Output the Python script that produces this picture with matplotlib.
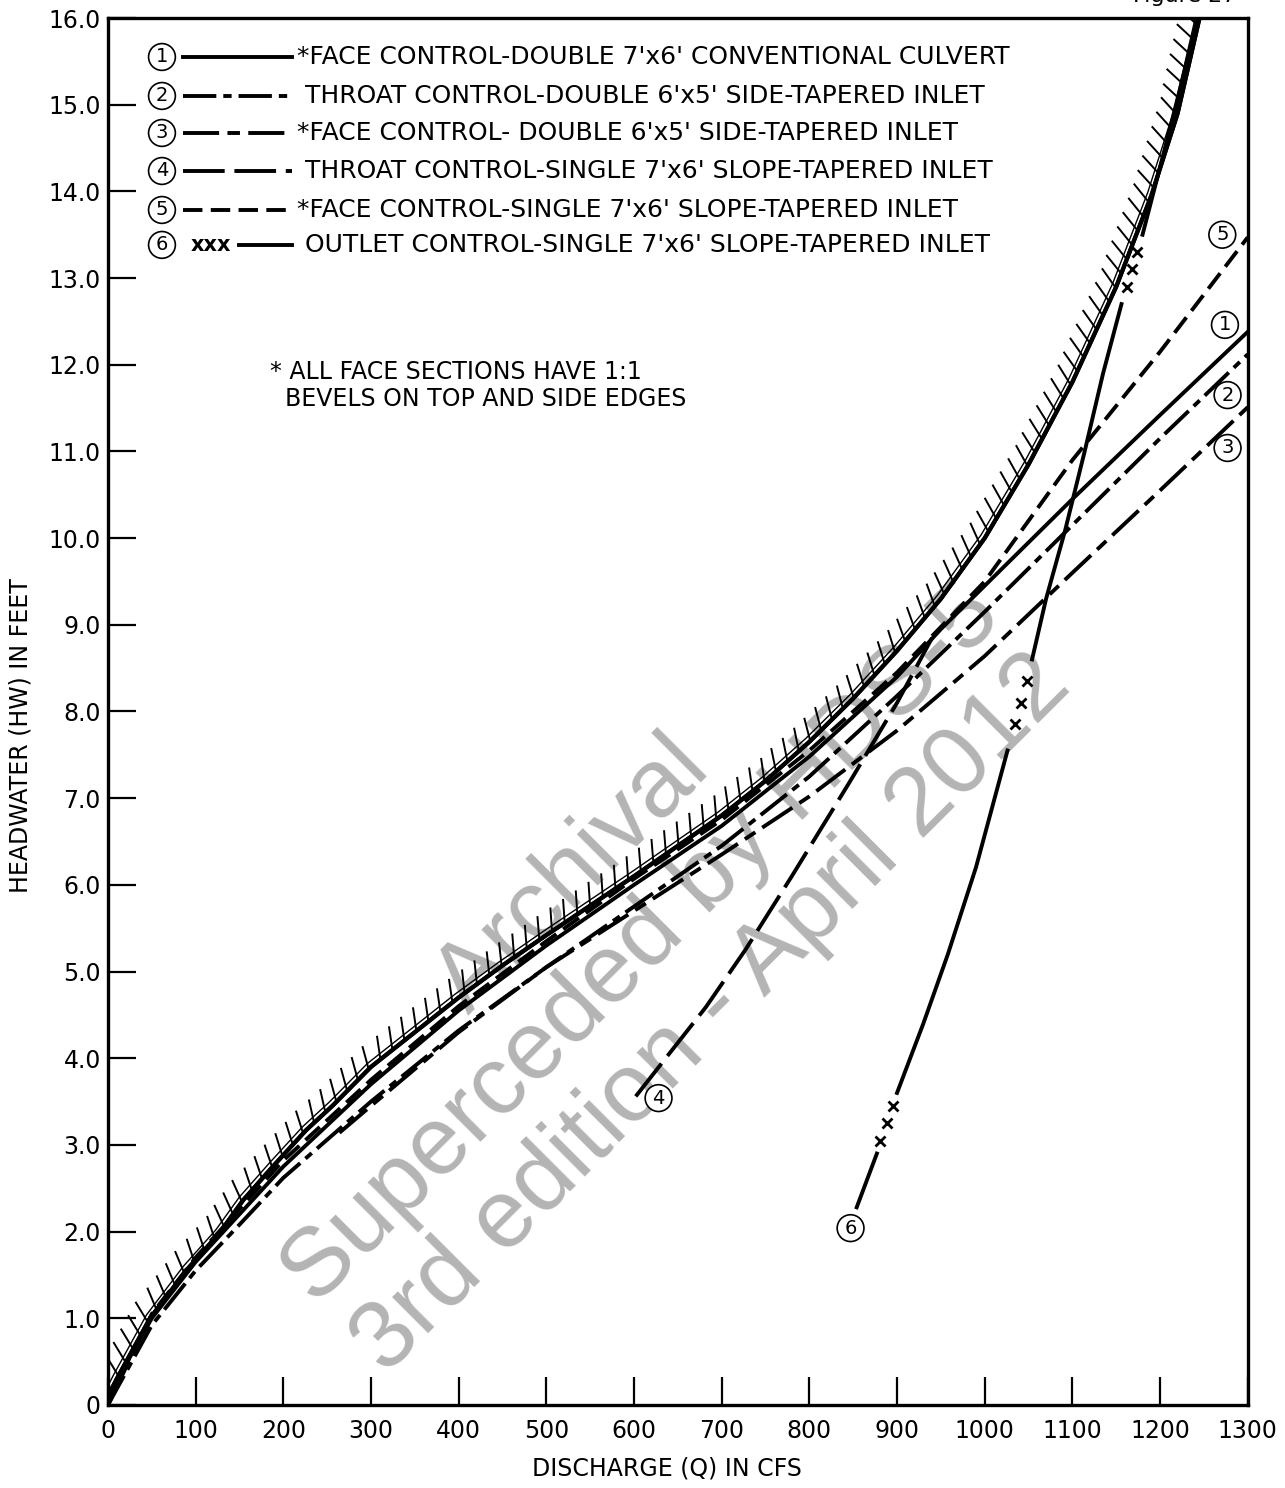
import matplotlib
matplotlib.use("Agg")
import matplotlib.pyplot as plt
import matplotlib.patheffects as pe
import numpy as np

plt.rcParams["lines.scale_dashes"] = False
plt.rcParams["font.family"] = ["DejaVu Sans"]

# values: discharge Q (cfs) vs headwater HW (ft)
q_env = [0, 10, 48, 90, 127, 154, 188, 226, 256, 300, 350, 400, 450, 500, 550, 600,
         650, 700, 750, 800, 850, 900, 950, 1000, 1050, 1100, 1150, 1190, 1220, 1245]
hw_env = [0.1, 0.3, 1.0, 1.56, 1.98, 2.36, 2.75, 3.17, 3.45, 3.9, 4.3, 4.7, 5.07, 5.42, 5.76, 6.1,
          6.45, 6.8, 7.2, 7.65, 8.15, 8.7, 9.3, 10.0, 10.85, 11.8, 12.9, 13.95, 14.9, 16.0]

q_c1 = [0, 25, 50, 100, 150, 200, 300, 400, 500, 600, 700, 800, 900, 950, 1000, 1100, 1200, 1300]
hw_c1 = [0, 0.55, 1.0, 1.65, 2.2, 2.75, 3.7, 4.55, 5.3, 6.0, 6.68, 7.48, 8.4, 8.95, 9.45, 10.45, 11.42, 12.38]

q_c2 = [0, 50, 100, 150, 200, 300, 400, 500, 600, 700, 800, 900, 1000, 1100, 1200, 1300]
hw_c2 = [0, 0.92, 1.55, 2.08, 2.62, 3.5, 4.32, 5.05, 5.75, 6.45, 7.25, 8.18, 9.15, 10.15, 11.15, 12.12]

q_c3 = [264, 300, 400, 500, 600, 700, 800, 900, 1000, 1100, 1200, 1300]
hw_c3 = [3.14, 3.45, 4.3, 5.05, 5.7, 6.35, 7.02, 7.78, 8.64, 9.6, 10.55, 11.51]

q_c4 = [602, 640, 682, 727, 780, 845, 900, 940]
hw_c4 = [3.56, 4.05, 4.59, 5.25, 6.1, 7.17, 8.1, 8.85]

q_c5 = [0, 50, 100, 200, 300, 400, 500, 600, 700, 800, 900, 1000, 1100, 1200, 1300]
hw_c5 = [0, 1.05, 1.7, 2.82, 3.75, 4.6, 5.35, 6.07, 6.75, 7.55, 8.45, 9.5, 10.9, 12.15, 13.47]

# outlet control curve, nan = break where the "xxx" marks sit
q_c6 = [854, 877, np.nan, 900, 930, 958, 990, 1026, np.nan,
        1054, 1070, 1092, 1114, 1135, 1156, np.nan, 1180, 1212, 1243]
hw_c6 = [2.28, 2.9, np.nan, 3.6, 4.4, 5.2, 6.2, 7.55, np.nan,
         8.6, 9.3, 10.1, 11.0, 11.9, 12.7, np.nan, 13.5, 14.75, 16.0]
q_c6x = [881, 888, 895, 1034, 1041, 1048, 1162, 1168, 1174]
hw_c6x = [3.05, 3.25, 3.45, 7.85, 8.1, 8.35, 12.9, 13.1, 13.3]

# curve number tags
tag_q = [1271, 1274, 1277, 1277, 628, 847]
tag_hw = [13.5, 12.46, 11.65, 11.04, 3.54, 2.04]
tag_txt = ["5", "1", "2", "3", "4", "6"]

legend_txt = ["*FACE CONTROL-DOUBLE 7'x6' CONVENTIONAL CULVERT",
              " THROAT CONTROL-DOUBLE 6'x5' SIDE-TAPERED INLET",
              "*FACE CONTROL- DOUBLE 6'x5' SIDE-TAPERED INLET",
              " THROAT CONTROL-SINGLE 7'x6' SLOPE-TAPERED INLET",
              "*FACE CONTROL-SINGLE 7'x6' SLOPE-TAPERED INLET",
              " OUTLET CONTROL-SINGLE 7'x6' SLOPE-TAPERED INLET"]

LW = 2.8
DASH = {1: None, 2: (0, (24, 5, 6, 5)), 3: (0, (26, 6, 9, 6)),
        4: (0, (30, 7)), 5: (0, (14, 6)), 6: None}

fig = plt.figure(figsize=(12.85, 14.88), dpi=100)
ax = fig.add_axes([0.084, 0.0558, 0.887, 0.9321])
ax.set_xlim(0, 1300)
ax.set_ylim(0, 16)

# watermark (under the curves)
ax.text(0.5, 0.365, "Archival\nSuperceded by HDS-5\n3rd edition - April 2012",
        transform=fig.transFigure, rotation=45, ha="center", va="center",
        multialignment="center", fontsize=70, color="#b4b4b4",
        family="Liberation Sans", linespacing=1.12, zorder=0.5)

ax.plot(q_env, hw_env, color="k", lw=3,
        path_effects=[pe.withTickedStroke(angle=60, spacing=11, length=1.5, linewidth=1.4),
                      pe.SimpleLineShadow(offset=(-2.5, 2.5), shadow_color="k", alpha=1,
                                          linewidth=1),
                      pe.Normal()])
ax.plot(q_c1, hw_c1, color="k", lw=LW)
ax.plot(q_c2, hw_c2, color="k", lw=LW, linestyle=DASH[2])
ax.plot(q_c3, hw_c3, color="k", lw=LW, linestyle=DASH[3])
ax.plot(q_c4, hw_c4, color="k", lw=LW, linestyle=DASH[4])
ax.plot(q_c5, hw_c5, color="k", lw=LW, linestyle=DASH[5])
ax.plot(q_c6, hw_c6, color="k", lw=LW)
ax.plot(q_c6x, hw_c6x, linestyle="none", marker="x", ms=7, mew=2, color="k")

circ = dict(boxstyle="circle,pad=0.2", fc="white", ec="black", lw=1.2)
for q, h, t in zip(tag_q, tag_hw, tag_txt):
    ax.text(q, h, t, ha="center", va="center", fontsize=14, bbox=circ, zorder=5)

# legend drawn by hand
rows_y = [0.9719, 0.9438, 0.9171, 0.8897, 0.8616, 0.8364]
for i, (yy, txt) in enumerate(zip(rows_y, legend_txt)):
    n = i + 1
    ax.text(0.0474, yy, str(n), transform=ax.transAxes, ha="center", va="center",
            fontsize=14, bbox=circ)
    if n == 6:
        ax.text(0.0905, yy, "xxx", transform=ax.transAxes, ha="center", va="center",
                fontsize=15, fontweight="bold")
        ax.plot([0.115, 0.1614], [yy, yy], transform=ax.transAxes, color="k", lw=LW)
    else:
        ax.plot([0.066, 0.1614], [yy, yy], transform=ax.transAxes, color="k", lw=LW,
                linestyle=DASH[n] if DASH[n] else "-")
    ax.text(0.166, yy, txt, transform=ax.transAxes, ha="left", va="center", fontsize=18)

ax.text(0.142, 0.735, "* ALL FACE SECTIONS HAVE 1:1\n  BEVELS ON TOP AND SIDE EDGES",
        transform=ax.transAxes, ha="left", va="center", fontsize=17, linespacing=1.15)

ax.set_xticks(range(0, 1301, 100))
ax.set_xticklabels([str(v) for v in range(0, 1301, 100)])
ax.set_yticks(range(0, 17))
ax.set_yticklabels(["0"] + ["%d.0" % v for v in range(1, 17)])
ax.tick_params(direction="in", length=20, width=1.6, labelsize=17, pad=5)
ax.tick_params(axis="x", pad=10)
for s in ax.spines.values():
    s.set_linewidth(2.4)

ax.set_xlabel("DISCHARGE (Q) IN CFS", fontsize=17)
ax.xaxis.set_label_coords(0.49, -0.037)
ax.set_ylabel("HEADWATER (HW) IN FEET", fontsize=17)
ax.yaxis.set_label_coords(-0.066, 0.483)

fig.text(0.962, 1.003, "Figure 27", ha="right", va="center", fontsize=16)

fig.savefig("out.png", dpi=100)
